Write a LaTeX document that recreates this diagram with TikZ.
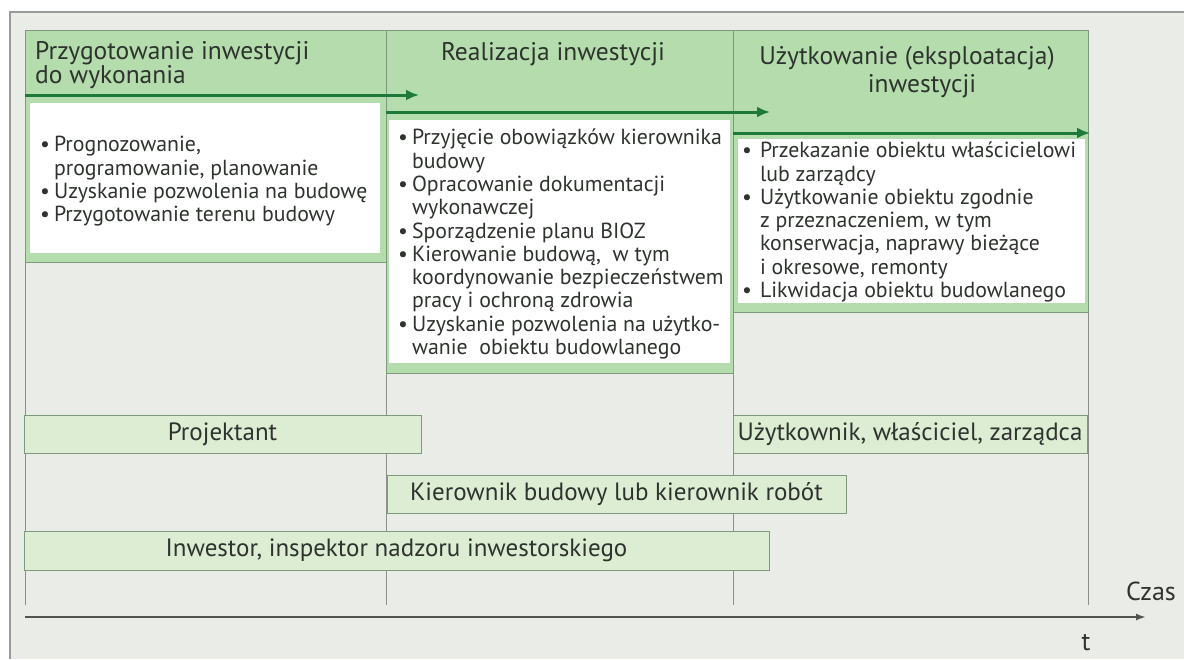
\documentclass[tikz,border=0pt]{standalone}
\usepackage{fontspec}
\setmainfont{PT Sans}
\usetikzlibrary{arrows.meta}
\definecolor{bggray}{HTML}{E9ECE7}
\definecolor{framegray}{HTML}{9A9C99}
\definecolor{hdgreen}{HTML}{B4DCAD}
\definecolor{boxgreen}{HTML}{DCEDD4}
\definecolor{edgegreen}{HTML}{7F9A7B}
\definecolor{arrgreen}{HTML}{1D7A3B}
\definecolor{txtgray}{HTML}{2E332E}
\definecolor{linegray}{HTML}{8C908A}
\definecolor{axisgray}{HTML}{505550}

\begin{document}
\begin{tikzpicture}[x=1pt,y=-1pt]

    \tikzset{panel/.style={fill=hdgreen,draw=edgegreen,line width=0.8pt},
        phase/.style={font=\fontsize{25.5}{20}\selectfont,text=txtgray,inner sep=0pt},
        items/.style={font=\fontsize{21.8}{23.3}\selectfont,text=txtgray,inner sep=0pt,anchor=west},
        actor/.style={draw=edgegreen,fill=boxgreen,line width=0.8pt,font=\fontsize{25}{26}\selectfont,text=txtgray,inner sep=0pt},
        stage/.style={-{Latex[length=13pt,width=11pt]},line width=3pt,draw=arrgreen}}

    \useasboundingbox (0,0) rectangle (1184,659);
    \fill[white] (0,0) rectangle (1184,659);
    \fill[bggray] (10,12) rectangle (1184,659);
    \draw[framegray,line width=1.5pt] (1184,12) -- (10,12) -- (10,659);

    \foreach \x in {25,386,733,1088}
        \draw[linegray,line width=1pt] (\x,30) -- (\x,605);

    \draw[panel] (25,30) rectangle (386,262);
    \fill[white] (30,103) rectangle (380,253);
    \draw[panel] (386,30) rectangle (733,373);
    \fill[white] (389,120) rectangle (730,363);
    \draw[panel] (733,30) rectangle (1088,312);
    \fill[white] (738,139) rectangle (1085,303);

    \node[phase,anchor=west,align=left] (hd1) at (35,65) {Przygotowanie inwestycji\\do wykonania};
    \node[phase] (hd2) at (553,54) {Realizacja inwestycji};
    \node[phase,align=center,font=\fontsize{25.5}{28}\selectfont] (hd3) at (907,72) {Użytkowanie (eksploatacja)\\\hspace*{30pt}inwestycji};

    \coordinate (a1s) at (25,95);
    \coordinate (a1e) at (419,95);
    \coordinate (a2s) at (386,112);
    \coordinate (a2e) at (770,112);
    \coordinate (a3s) at (733,133);
    \coordinate (a3e) at (1090,133);

    \begin{scope}[every path/.style={stage}]
        \draw (a1s) -- (a1e);
        \draw (a2s) -- (a2e);
        \draw (a3s) -- (a3e);
    \end{scope}

    \node[items] (lst1) at (40,182) {\begin{tabular}{@{}l@{\hspace{4pt}}l@{}}
        •&Prognozowanie,\\
        &programowanie, planowanie\\
        •&Uzyskanie pozwolenia na budowę\\
        •&Przygotowanie terenu budowy\end{tabular}};
    \node[items] (lst2) at (398,245) {\begin{tabular}{@{}l@{\hspace{4pt}}l@{}}
        •&Przyjęcie obowiązków kierownika\\
        &budowy\\
        •&Opracowanie dokumentacji\\
        &wykonawczej\\
        •&Sporządzenie planu BIOZ\\
        •&Kierowanie budową,\ \ w tym\\
        &koordynowanie bezpieczeństwem\\
        &pracy i ochroną zdrowia\\
        •&Uzyskanie pozwolenia na użytko-\\
        &wanie\ \ obiektu budowlanego\end{tabular}};
    \node[items] (lst3) at (742,223) {\begin{tabular}{@{}l@{\hspace{8pt}}l@{}}
        •&Przekazanie obiektu właścicielowi\\
        &lub zarządcy\\
        •&Użytkowanie obiektu zgodnie\\
        &z przeznaczeniem, w tym\\
        &konserwacja, naprawy bieżące\\
        &i okresowe, remonty\\
        •&Likwidacja obiektu budowlanego\end{tabular}};

    \node[actor,minimum width=397,minimum height=38] (proj) at (222.5,434) {Projektant};
    \node[actor,minimum width=354,minimum height=38] (user) at (910,434) {Użytkownik, właściciel, zarządca};
    \node[actor,minimum width=459,minimum height=38] (kier) at (616.5,494) {Kierownik budowy lub kierownik robót};
    \node[actor,minimum width=745,minimum height=39] (inw) at (396.5,550.5) {Inwestor, inspektor nadzoru inwestorskiego};

    \coordinate (t0) at (25,617);
    \coordinate (t1) at (1146,617);
    \draw[-{Latex[length=10pt,width=7pt]},line width=2pt,draw=axisgray] (t0) -- (t1);
    \node[text=txtgray,font=\fontsize{26}{28}\selectfont] (czas) at (1151,591) {Czas};
    \node[text=txtgray,font=\fontsize{26}{28}\selectfont] (tt) at (1086,643) {t};
\end{tikzpicture}
\end{document}
